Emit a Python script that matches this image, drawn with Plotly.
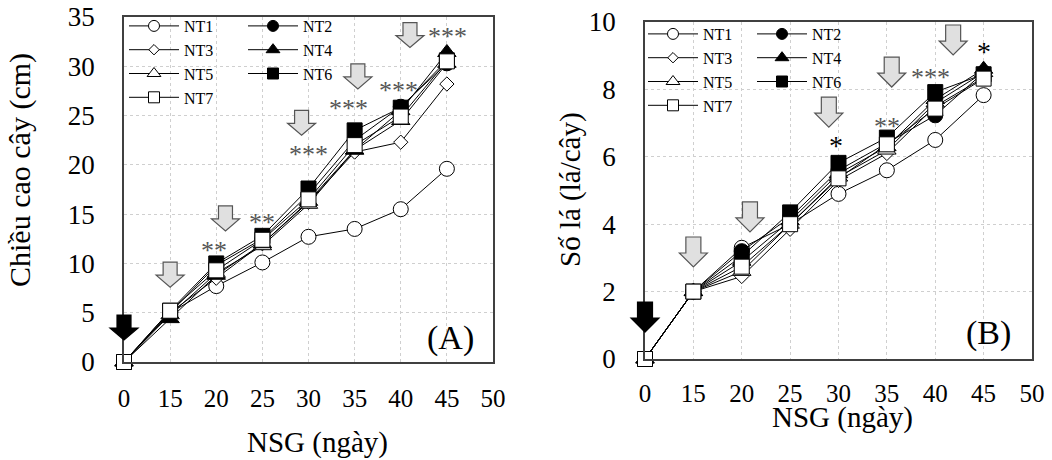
import plotly.graph_objects as go

# ---------------- data ----------------
x_labels = ["0", "15", "20", "25", "30", "35", "40", "45", "50"]
days = ["0", "15", "20", "25", "30", "35", "40", "45"]
treatments = ["NT1", "NT2", "NT3", "NT4", "NT5", "NT6", "NT7"]

height_NT1 = [0, 5.0, 7.7, 10.1, 12.7, 13.5, 15.5, 19.6]
height_NT2 = [0, 5.0, 9.8, 12.5, 17.0, 22.5, 25.9, 30.3]
height_NT3 = [0, 5.0, 8.5, 12.0, 16.2, 21.3, 22.3, 28.2]
height_NT4 = [0, 4.4, 8.8, 12.0, 16.3, 21.5, 25.5, 31.4]
height_NT5 = [0, 4.8, 9.0, 11.8, 16.0, 21.5, 24.5, 30.3]
height_NT6 = [0, 5.2, 10.0, 12.8, 17.6, 23.5, 25.8, 30.6]
height_NT7 = [0, 5.2, 9.3, 12.4, 16.5, 22.0, 24.9, 30.5]

leaf_NT1 = [0, 2.0, 3.3, 4.0, 4.9, 5.6, 6.5, 7.83]
leaf_NT2 = [0, 2.0, 3.2, 4.2, 5.6, 6.4, 7.23, 8.5]
leaf_NT3 = [0, 2.0, 2.45, 3.85, 5.3, 6.1, 7.5, 8.35]
leaf_NT4 = [0, 2.0, 2.9, 4.1, 5.5, 6.3, 7.7, 8.6]
leaf_NT5 = [0, 2.0, 2.6, 4.0, 5.4, 6.2, 7.6, 8.5]
leaf_NT6 = [0, 2.0, 3.05, 4.35, 5.82, 6.57, 7.92, 8.45]
leaf_NT7 = [0, 2.0, 2.74, 4.0, 5.36, 6.37, 7.43, 8.32]

# arrow markers (position on category axis, tip value)
arrowsA_pos = [0, 1.0, 2.2, 3.85, 5.07, 6.2]
arrowsA_tip = [2.23, 7.6, 13.3, 23.0, 27.7, 31.9]
arrowsA_black = [True, False, False, False, False, False]
arrowsB_pos = [0, 1.0, 2.17, 3.8, 5.1, 6.37]
arrowsB_tip = [0.8, 2.73, 3.77, 6.88, 8.07, 9.02]
arrowsB_black = [True, False, False, False, False, False]

# significance marks
sigA_pos = [1.96, 3.0, 4.0, 4.87, 5.96, 7.02]
sigA_y = [11.67, 14.6, 21.5, 26.1, 27.9, 33.4]
sigA_text = ["**", "**", "***", "***", "***", "***"]
sigB_pos = [3.95, 5.0, 5.9, 7.0]
sigB_y = [6.44, 7.03, 8.46, 9.23]
sigB_text = ["*", "**", "***", "*"]
sigB_black = [True, False, False, True]

heights = dict(NT1=height_NT1, NT2=height_NT2, NT3=height_NT3, NT4=height_NT4,
               NT5=height_NT5, NT6=height_NT6, NT7=height_NT7)
leaves = dict(NT1=leaf_NT1, NT2=leaf_NT2, NT3=leaf_NT3, NT4=leaf_NT4,
              NT5=leaf_NT5, NT6=leaf_NT6, NT7=leaf_NT7)

# ---------------- styles ----------------
W, H = 1052, 460
FONT = "Liberation Serif, Times New Roman, serif"
styles = {
    "NT1": dict(symbol="circle", color="white", size=15, lsize=11),
    "NT2": dict(symbol="circle", color="black", size=15, lsize=11),
    "NT3": dict(symbol="diamond", color="white", size=11, lsize=8),
    "NT4": dict(symbol="triangle-up", color="black", size=16, lsize=12),
    "NT5": dict(symbol="triangle-up", color="white", size=16, lsize=12),
    "NT6": dict(symbol="square", color="black", size=15, lsize=11),
    "NT7": dict(symbol="square", color="white", size=15, lsize=11),
}
draw_order = ["NT1", "NT3", "NT5", "NT2", "NT4", "NT6", "NT7"]
col1 = ["NT1", "NT3", "NT5", "NT7"]

# pixel geometry of the two panels
pA = dict(l=124, r=493, t=17, b=362)
pB = dict(l=645, r=1032, t=22, b=359)
xrange_ = [0, len(x_labels) - 1]
yA = [0, 35]
yB = [0, 10]

xpos = [x_labels.index(d) for d in days]


def px2paper_x(px):
    return px / W


def px2paper_y(py):
    return 1 - py / H


fig = go.Figure()

for name in draw_order:
    st = styles[name]
    for ax, data in (("A", heights), ("B", leaves)):
        fig.add_trace(go.Scatter(
            x=xpos, y=data[name], name=name,
            mode="lines+markers",
            line=dict(color="black", width=1),
            marker=dict(symbol=st["symbol"], size=st["size"], color=st["color"],
                        line=dict(color="black", width=1)),
            xaxis="x" if ax == "A" else "x2",
            yaxis="y" if ax == "A" else "y2",
            showlegend=False,
            cliponaxis=False,
        ))

# legend entries (no data drawn; only legend symbols)
for name in treatments:
    st = styles[name]
    for ax, lg in (("A", ("legend", "legend2")), ("B", ("legend3", "legend4"))):
        fig.add_trace(go.Scatter(
            x=[None], y=[None], name=name, mode="lines+markers",
            line=dict(color="black", width=1),
            marker=dict(symbol=st["symbol"], size=st["lsize"], color=st["color"],
                        line=dict(color="black", width=1)),
            xaxis="x" if ax == "A" else "x2",
            yaxis="y" if ax == "A" else "y2",
            legend=lg[0] if name in col1 else lg[1],
            showlegend=True,
        ))

axis_common = dict(showline=True, linecolor="#404040", linewidth=1.5, mirror=True,
                   showgrid=True, gridcolor="#cfcfcf", gridwidth=1, griddash="3px,3px",
                   zeroline=False, ticks="", automargin=False)

fig.update_layout(
    width=W, height=H, margin=dict(l=0, r=0, t=0, b=0, pad=0, autoexpand=False),
    paper_bgcolor="white", plot_bgcolor="white",
    font=dict(family=FONT, color="black"),
    xaxis=dict(domain=[px2paper_x(pA["l"]), px2paper_x(pA["r"])], range=xrange_,
               tickvals=list(range(len(x_labels))), ticktext=x_labels, anchor="y",
               ticklabelstandoff=13, tickfont=dict(family=FONT, size=25, color="black"),
               **axis_common),
    yaxis=dict(domain=[px2paper_y(pA["b"]), px2paper_y(pA["t"])], range=yA,
               dtick=5, anchor="x", ticklabelstandoff=22,
               tickfont=dict(family=FONT, size=27, color="black"), **axis_common),
    xaxis2=dict(domain=[px2paper_x(pB["l"]), px2paper_x(pB["r"])], range=xrange_,
                tickvals=list(range(len(x_labels))), ticktext=x_labels, anchor="y2",
                ticklabelstandoff=11, tickfont=dict(family=FONT, size=25, color="black"),
                **axis_common),
    yaxis2=dict(domain=[px2paper_y(pB["b"]), px2paper_y(pB["t"])], range=yB,
                dtick=2, anchor="x2", ticklabelstandoff=22,
                tickfont=dict(family=FONT, size=27, color="black"), **axis_common),
)

leg_common = dict(bgcolor="rgba(0,0,0,0)", borderwidth=0,
                  font=dict(family=FONT, size=16, color="black"),
                  itemwidth=50, xanchor="left", yanchor="top", tracegroupgap=0)
fig.update_layout(
    legend=dict(x=px2paper_x(124), y=px2paper_y(9), **leg_common),
    legend2=dict(x=px2paper_x(243), y=px2paper_y(9), **leg_common),
    legend3=dict(x=px2paper_x(643), y=px2paper_y(17), **leg_common),
    legend4=dict(x=px2paper_x(752), y=px2paper_y(17), **leg_common),
)


# ---------------- block arrows (paper coords so they are not clipped) ----------------
def arrow_path(xc, ytip, geom, yr, w, sw, h, hh):
    # data -> pixel through the panel's axis range and domain
    def xp(v):
        return geom["l"] + (v - xrange_[0]) / (xrange_[1] - xrange_[0]) * (geom["r"] - geom["l"])

    def yp(v):
        return geom["b"] - (v - yr[0]) / (yr[1] - yr[0]) * (geom["b"] - geom["t"])

    cx, ty = xp(xc), yp(ytip)
    top, neck = ty - h, ty - hh
    pts = [(cx - sw / 2, top), (cx + sw / 2, top), (cx + sw / 2, neck),
           (cx + w / 2, neck), (cx, ty), (cx - w / 2, neck), (cx - sw / 2, neck)]
    return "M " + " L ".join(f"{px2paper_x(a):.5f},{px2paper_y(b):.5f}" for a, b in pts) + " Z"


shapes = []
for xc, yt, blk in zip(arrowsA_pos, arrowsA_tip, arrowsA_black):
    shapes.append(dict(type="path", xref="paper", yref="paper",
                       path=arrow_path(xc, yt, pA, yA, 28, 14, 25, 12),
                       fillcolor="black" if blk else "#e0e0e0",
                       line=dict(color="black" if blk else "#555555", width=1.2)))
for xc, yt, blk in zip(arrowsB_pos, arrowsB_tip, arrowsB_black):
    shapes.append(dict(type="path", xref="paper", yref="paper",
                       path=arrow_path(xc, yt, pB, yB, 28, 15, 30, 14),
                       fillcolor="black" if blk else "#e0e0e0",
                       line=dict(color="black" if blk else "#555555", width=1.2)))
fig.update_layout(shapes=shapes)

# ---------------- annotations ----------------
ann = []
for xp_, yv, t in zip(sigA_pos, sigA_y, sigA_text):
    ann.append(dict(x=xp_, y=yv, xref="x", yref="y", text=t, showarrow=False,
                    xanchor="center", yanchor="middle",
                    font=dict(family=FONT, size=26, color="#555555"), yshift=-4))
for xp_, yv, t, blk in zip(sigB_pos, sigB_y, sigB_text, sigB_black):
    ann.append(dict(x=xp_, y=yv, xref="x2", yref="y2", text=t, showarrow=False,
                    xanchor="center", yanchor="middle",
                    font=dict(family=FONT, size=28 if blk else 26,
                              color="black" if blk else "#555555"), yshift=-4))

labels = [
    (450, 338, "(A)", 34, 0),
    (988, 333, "(B)", 34, 0),
    (317, 442, "NSG (ngày)", 29, 0),
    (842, 417, "NSG (ngày)", 29, 0),
    (20, 170, "Chiều cao cây (cm)", 30, -90),
    (570, 190, "Số lá (lá/cây)", 29, -90),
]
for px, py, t, fs, ang in labels:
    ann.append(dict(x=px2paper_x(px), y=px2paper_y(py), xref="paper", yref="paper",
                    text=t, textangle=ang, showarrow=False,
                    xanchor="center", yanchor="middle",
                    font=dict(family=FONT, size=fs, color="black")))
fig.update_layout(annotations=ann)

fig.write_html(
    "out.html",
    config={"displayModeBar": False},
    post_script="document.body.style.margin='0';document.body.style.overflow='hidden';",
)
